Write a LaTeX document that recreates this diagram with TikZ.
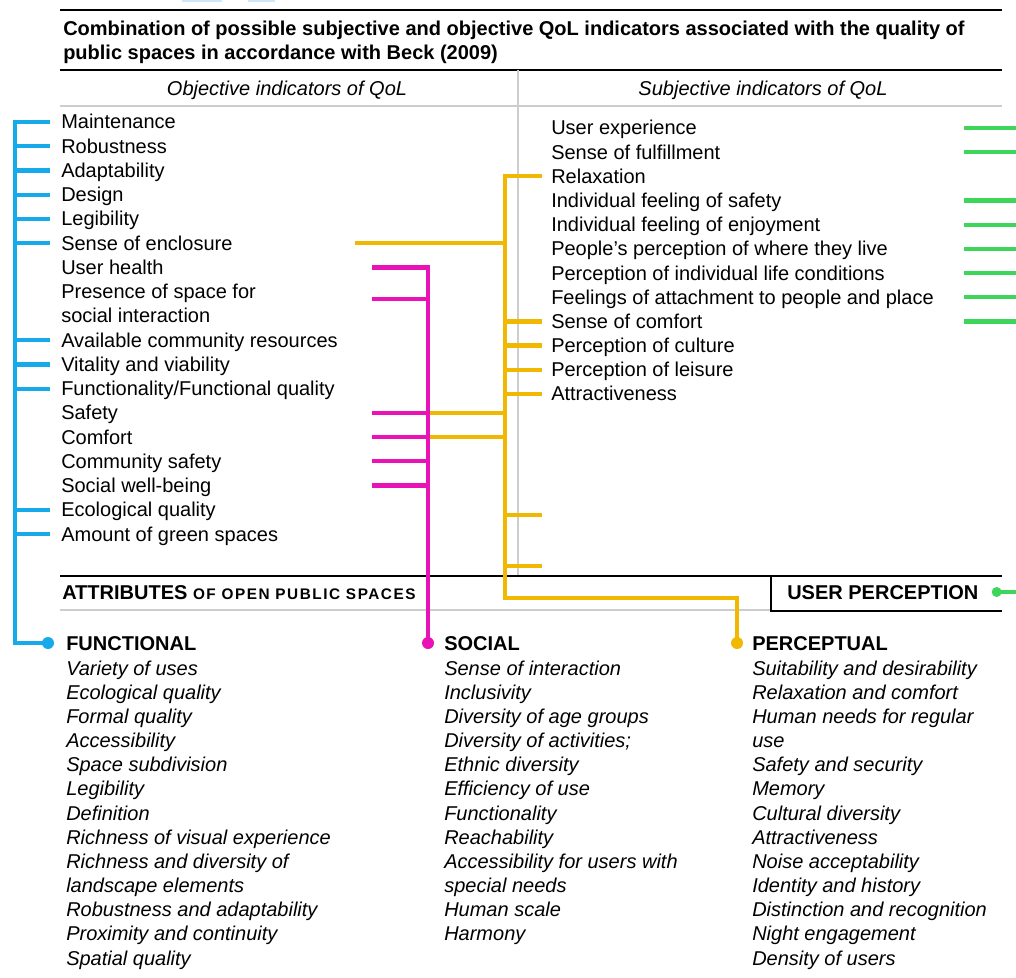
\documentclass[tikz,border=0pt]{standalone}
\usepackage{fontspec}
\setmainfont{Liberation Sans}
\newfontfamily\spacedfont[LetterSpace=10]{Liberation Sans}
\usetikzlibrary{calc}
\definecolor{qblue}{RGB}{22,170,234}
\definecolor{qmag}{RGB}{233,18,183}
\definecolor{qor}{RGB}{240,184,0}
\definecolor{qgreen}{RGB}{61,214,90}
\definecolor{qgray}{RGB}{205,205,205}
\definecolor{qlight}{RGB}{205,230,248}
\begin{document}
\begin{tikzpicture}[x=0.75pt,y=-0.75pt,
  font=\fontsize{15}{18}\selectfont,
  item/.style={anchor=west, inner sep=0pt, text height=10.5pt, text depth=0pt},
  ctitem/.style={anchor=center, inner sep=0pt, text height=10.5pt, text depth=0pt, font=\fontsize{15}{18}\selectfont\itshape},
  lst/.style={item, font=\fontsize{15}{18}\selectfont\itshape},
  hdr/.style={item, font=\fontsize{15}{18}\selectfont\bfseries},
  bl/.style={draw=qblue, line width=3.2pt},
  mg/.style={draw=qmag, line width=3.2pt},
  orl/.style={draw=qor, line width=3.2pt},
  gr/.style={draw=qgreen, line width=3.2pt},
  rulethick/.style={draw=black, line width=1.9pt},
  rulemid/.style={draw=black, line width=1.2pt},
  rulegray/.style={draw=qgray, line width=0.8pt}
]
\useasboundingbox (0,0) rectangle (1016,977);
\fill[qlight] (182,0) rectangle (222,2);
\fill[qlight] (248,0) rectangle (275,2);

% table rules
\draw[rulethick] (60,10) -- (1002,10);
\draw[rulethick] (60,70) -- (1002,70);
\draw[rulegray] (60,106) -- (1002,106);
\draw[rulegray] (518,70) -- (518,576);
\draw[rulegray] (60,610) -- (771,610);
\draw[rulemid] (60,576) -- (1002,576);
\draw[rulemid] (771,576) -- (771,611) -- (1002,611);

% title and headers
\node[hdr] (t1) at (63,29) {Combination of possible subjective and objective QoL indicators associated with the quality of};
\node[hdr] (t2) at (63,53) {public spaces in accordance with Beck (2009)};
\node[ctitem] (hobj) at (287,89) {Objective indicators of QoL};
\node[ctitem] (hsub) at (763,89) {Subjective indicators of QoL};

% left items
\foreach \t [count=\i] in {Maintenance,Robustness,Adaptability,Design,Legibility,Sense of enclosure,User health,Presence of space for,social interaction,Available community resources,Vitality and viability,Functionality/Functional quality,Safety,Comfort,Community safety,Social well-being,Ecological quality,Amount of green spaces}
  \node[item] (L\i) at (61,{122+(\i-1)*24.24}) {\t};

% right items
\foreach \t [count=\i] in {User experience,Sense of fulfillment,Relaxation,Individual feeling of safety,Individual feeling of enjoyment,People’s perception of where they live,Perception of individual life conditions,Feelings of attachment to people and place,Sense of comfort,Perception of culture,Perception of leisure,Attractiveness}
  \node[item] (R\i) at (551,{128+(\i-1)*24.18}) {\t};

% section headers
\node[item] (attr) at (62,592) {\bfseries ATTRIBUTES {\spacedfont\bfseries\fontsize{11.5}{13}\selectfont OF OPEN PUBLIC SPACES}};
\node[item] (up) at (787,592) {\bfseries USER PERCEPTION};
\node[hdr] (F) at (66,643) {FUNCTIONAL};
\node[hdr] (S) at (444,643) {SOCIAL};
\node[hdr] (P) at (752,643) {PERCEPTUAL};

\foreach \t [count=\i] in {Variety of uses,Ecological quality,Formal quality,Accessibility,Space subdivision,Legibility,Definition,Richness of visual experience,Richness and diversity of,landscape elements,Robustness and adaptability,Proximity and continuity,Spatial quality}
  \node[lst] (F\i) at (66,{668+(\i-1)*24.17}) {\t};
\foreach \t [count=\i] in {Sense of interaction,Inclusivity,Diversity of age groups,Diversity of activities;,Ethnic diversity,Efficiency of use,Functionality,Reachability,Accessibility for users with,special needs,Human scale,Harmony}
  \node[lst] (S\i) at (444,{668+(\i-1)*24.17}) {\t};
\foreach \t [count=\i] in {Suitability and desirability,Relaxation and comfort,Human needs for regular,use,Safety and security,Memory,Cultural diversity,Attractiveness,Noise acceptability,Identity and history,Distinction and recognition,Night engagement,Density of users}
  \node[lst] (P\i) at (752,{668+(\i-1)*24.17}) {\t};

% bus coordinates
\coordinate (bb) at (15,0);
\coordinate (bt) at (50,0);
\coordinate (mb) at (428,0);
\coordinate (mt) at (372,0);
\coordinate (ob) at (505,0);
\coordinate (ot) at (542,0);
\coordinate (os) at (355,0);
\coordinate (gb) at (964,0);
\coordinate (ge) at (1016,0);
\coordinate (obot) at (0,598);
\coordinate (ox1) at (542,515);
\coordinate (ox2) at (542,566);
\coordinate (mpres) at (372,299);

% orange
\draw[orl] (os |- L6.west) -- (ob |- L6.west);
\draw[orl] (mb |- L13.west) -- (ob |- L13.west);
\draw[orl] (mb |- L14.west) -- (ob |- L14.west);
\foreach \i in {9,10,11,12} \draw[orl] (ob |- R\i.west) -- (ot |- R\i.west);
\draw[orl] (ob |- ox1) -- (ox1);
\draw[orl] (ob |- ox2) -- (ox2);
\coordinate (pdot) at ($(P.west)+(-15,0)$);
\draw[orl] (ot |- R3.west) -- (ob |- R3.west) -- (ob |- obot) -- (pdot |- obot) -- (pdot);
\fill[qor] (pdot) circle (6);

% magenta
\coordinate (sdot) at ($(S.west)+(-16,0)$);
\draw[mg] (mt |- L7.west) -- (mb |- L7.west) -- (sdot);
\draw[mg] (mpres) -- (mb |- mpres);
\foreach \i in {13,14,15,16} \draw[mg] (mt |- L\i.west) -- (mb |- L\i.west);
\fill[qmag] (sdot) circle (6);

% blue
\coordinate (fdot) at ($(F.west)+(-18,0)$);
\draw[bl] (bt |- L1.west) -- (bb |- L1.west) -- (bb |- F.west) -- (fdot);
\foreach \i in {2,3,4,5,6,10,11,12,17,18} \draw[bl] (bb |- L\i.west) -- (bt |- L\i.west);
\fill[qblue] (fdot) circle (6);

% green
\foreach \i in {1,2,4,5,6,7,8,9} \draw[gr] (gb |- R\i.west) -- (ge |- R\i.west);
\coordinate (gdot) at ($(up.east)+(18,0)$);
\draw[gr] (gdot) -- (ge |- gdot);
\fill[qgreen] (gdot) circle (5);
\end{tikzpicture}
\end{document}
